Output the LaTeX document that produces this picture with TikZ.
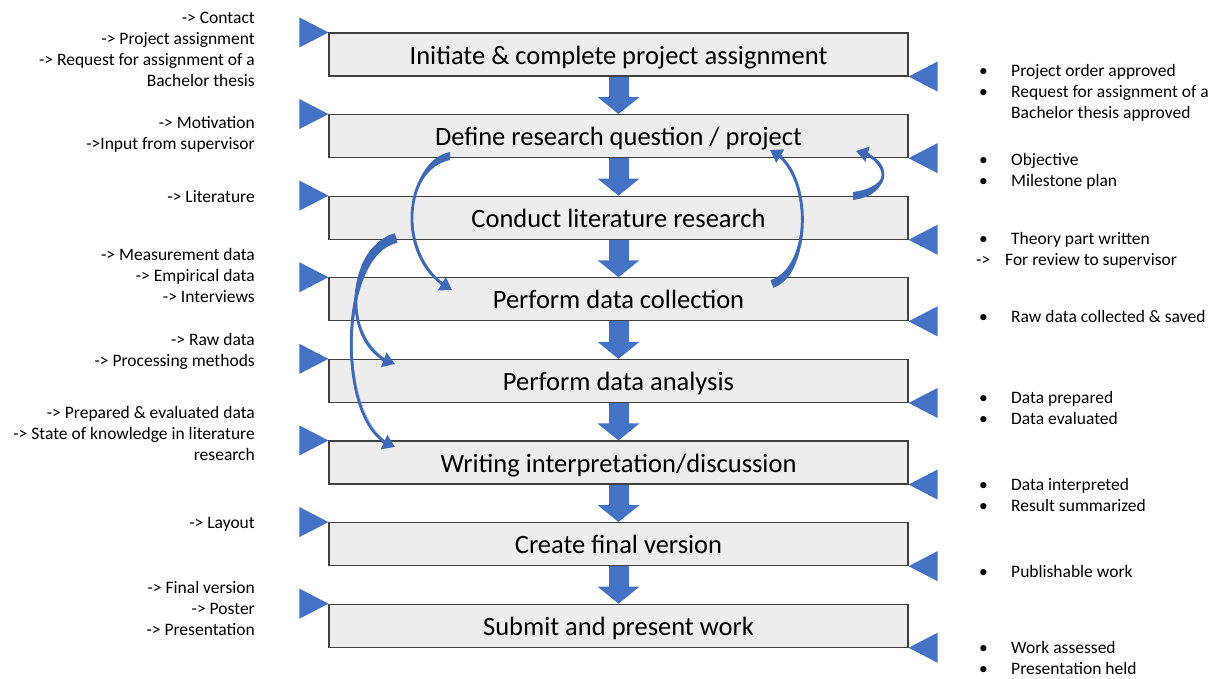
\documentclass[tikz,border=0pt]{standalone}
\usepackage{fontspec}
\setmainfont{Carlito}
\usepackage{xcolor}
\usepackage{tikz}
\usetikzlibrary{arrows.meta, calc}
\definecolor{flowblue}{HTML}{4472C4}
\definecolor{bendblue}{HTML}{3D69B6}
\definecolor{boxfill}{HTML}{EDEDED}
\definecolor{boxline}{HTML}{404040}
\newcommand{\stagefont}{\fontsize{26.5}{30}\selectfont}
\newcommand{\notefont}{\fontsize{17.5}{21}\selectfont}
\tikzstyle{stage} = [rectangle, minimum width=579pt, minimum height=43pt, text height=21pt, text depth=2pt, text centered, draw=boxline, fill=boxfill, line width=1.1pt, font=\stagefont]
\tikzstyle{flow} = [line width=20pt, draw=flowblue, -{Triangle[width=41pt,length=17pt]}]
\tikzstyle{marker} = [fill=flowblue]
\tikzstyle{loopband} = [fill=bendblue]
\tikzstyle{loopline} = [draw=bendblue, line width=2.8pt]
\tikzstyle{loophead} = [loopline, -{Triangle[width=15pt,length=12pt]}]
\tikzstyle{lnote} = [anchor=base east, inner sep=0pt, font=\notefont]
\tikzstyle{rnote} = [anchor=base west, inner sep=0pt, font=\notefont]
% tapered curved arrow: tail, control 1, control 2, tip, half width at tail
\newcommand{\bentarrow}[5]{%
  \fill[loopband] ($(#1)+(#5)$) .. controls ($(#2)+(#5)$) and (#3) .. (#4) .. controls (#3) and ($(#2)-(#5)$) .. ($(#1)-(#5)$) -- cycle;
  \draw[loopline] (#1) .. controls (#2) and (#3) .. ($(#4)!6pt!(#3)$);
  \draw[loophead] ($(#4)!14pt!(#3)$) -- (#4);}

\begin{document}
\begin{tikzpicture}[x=1pt, y=-1pt, node distance=81.6pt]
  \useasboundingbox (0,0) rectangle (1220,678);

  % Stages
  \node (s1) [stage] at (618.5,54.5) {Initiate \& complete project assignment};
  \node (s2) [stage, below of=s1] {Define research question / project};
  \node (s3) [stage, below of=s2] {Conduct literature research};
  \node (s4) [stage, below of=s3] {Perform data collection};
  \node (s5) [stage, below of=s4] {Perform data analysis};
  \node (s6) [stage, below of=s5] {Writing interpretation/discussion};
  \node (s7) [stage, below of=s6] {Create final version};
  \node (s8) [stage, below of=s7] {Submit and present work};

  % Input and output markers
  \foreach \i in {1,...,8} {
    \fill[marker] (s\i.north west) -- ++(-29,-15) -- ++(0,30) -- cycle;
    \fill[marker] (s\i.south east) -- ++(29,-15) -- ++(0,30) -- cycle;
  }

  % Flow arrows
  \foreach \i [evaluate=\i as \j using int(\i+1)] in {1,...,7}
    \draw [flow] (s\i) -- (s\j);

  % Inputs
  \node (in1) [lnote] at (255,23) {\begin{tabular}[t]{@{}r@{}}-> Contact\\-> Project assignment\\-> Request for assignment of a\\Bachelor thesis\end{tabular}};
  \node (in2) [lnote] at (255,128) {\begin{tabular}[t]{@{}r@{}}-> Motivation\\->Input from supervisor\end{tabular}};
  \node (in3) [lnote] at (255,202) {-> Literature};
  \node (in4) [lnote] at (255,260) {\begin{tabular}[t]{@{}r@{}}-> Measurement data\\-> Empirical data\\-> Interviews\end{tabular}};
  \node (in5) [lnote] at (255,345) {\begin{tabular}[t]{@{}r@{}}-> Raw data\\-> Processing methods\end{tabular}};
  \node (in6) [lnote] at (255,418) {\begin{tabular}[t]{@{}r@{}}-> Prepared \& evaluated data\\-> State of knowledge in literature\\research\end{tabular}};
  \node (in7) [lnote] at (255,528) {-> Layout};
  \node (in8) [lnote] at (255,593) {\begin{tabular}[t]{@{}r@{}}-> Final version\\-> Poster\\-> Presentation\end{tabular}};

  % Results
  \node (out1) [rnote] at (979,76) {\begin{tabular}[t]{@{}p{32pt}@{}l@{}}\textbullet & Project order approved\\\textbullet & Request for assignment of a\\ & Bachelor thesis approved\end{tabular}};
  \node (out2) [rnote] at (979,165) {\begin{tabular}[t]{@{}p{32pt}@{}l@{}}\textbullet & Objective\\\textbullet & Milestone plan\end{tabular}};
  \node (out3) [rnote] at (979,244) {\begin{tabular}[t]{@{}p{32pt}@{}l@{}}\textbullet & Theory part written\\\hspace{-3pt}-> & \hspace{-6pt}For review to supervisor\end{tabular}};
  \node (out4) [rnote] at (979,322) {\begin{tabular}[t]{@{}p{32pt}@{}l@{}}\textbullet & Raw data collected \& saved\end{tabular}};
  \node (out5) [rnote] at (979,403) {\begin{tabular}[t]{@{}p{32pt}@{}l@{}}\textbullet & Data prepared\\\textbullet & Data evaluated\end{tabular}};
  \node (out6) [rnote] at (979,490) {\begin{tabular}[t]{@{}p{32pt}@{}l@{}}\textbullet & Data interpreted\\\textbullet & Result summarized\end{tabular}};
  \node (out7) [rnote] at (979,577) {\begin{tabular}[t]{@{}p{32pt}@{}l@{}}\textbullet & Publishable work\end{tabular}};
  \node (out8) [rnote] at (979,653) {\begin{tabular}[t]{@{}p{32pt}@{}l@{}}\textbullet & Work assessed\\\textbullet & Presentation held\end{tabular}};

  % Feedback loops
  \coordinate (qa) at (450,156);
  \coordinate (qb) at (452,290);
  \coordinate (ca) at (772,284);
  \coordinate (cb) at (770,150);
  \coordinate (la) at (853,196);
  \coordinate (lb) at (856,151);
  \coordinate (ra) at (396,238);
  \coordinate (rb) at (395,364);
  \coordinate (rc) at (395,447);
  \bentarrow{qa}{405,165}{395,255}{qb}{0,4}
  \bentarrow{ca}{812,270}{812,175}{cb}{1.3,3.8}
  \bentarrow{la}{895,190}{888,160}{lb}{0,4}
  \bentarrow{ra}{342,255}{345,345}{rb}{1.3,4.5}
  \bentarrow{ra}{340,250}{335,420}{rc}{1.3,4.5}

\end{tikzpicture}
\end{document}
